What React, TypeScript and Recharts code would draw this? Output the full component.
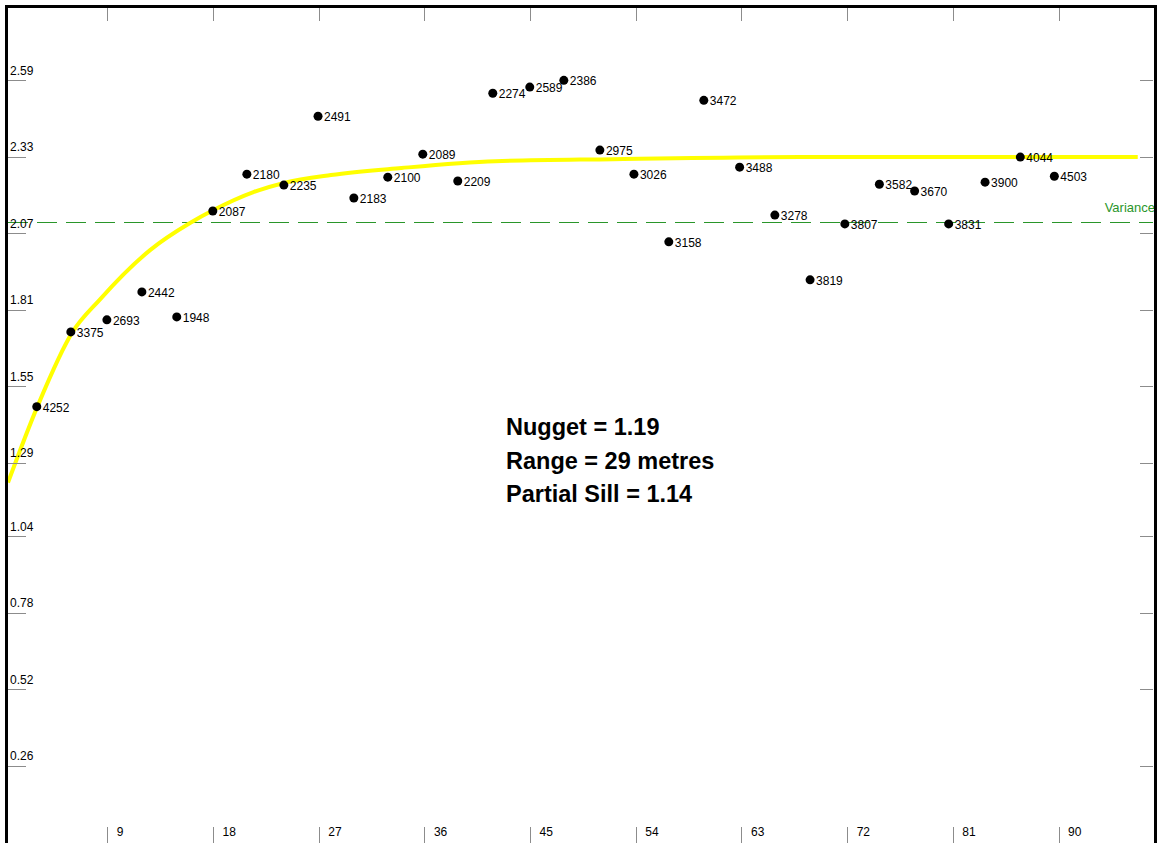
import React from 'react'
import { ComposedChart, Scatter, Line, XAxis, YAxis, ReferenceLine } from 'recharts'

// lag distance (m), semivariance and pair count of each point
const lags = [2.95, 5.85, 8.92, 11.9, 14.87, 17.94, 20.84, 23.99, 26.9, 29.95, 32.84, 35.82, 38.8, 41.78, 44.93, 47.83, 50.9, 53.8, 56.77, 59.75, 62.8, 65.8, 68.8, 71.76, 74.7, 77.7, 80.6, 83.7, 86.7, 89.6]
const gammas = [1.483, 1.737, 1.778, 1.873, 1.788, 2.148, 2.273, 2.236, 2.47, 2.192, 2.263, 2.341, 2.25, 2.548, 2.569, 2.592, 2.355, 2.273, 2.043, 2.524, 2.297, 2.134, 1.914, 2.104, 2.239, 2.216, 2.104, 2.246, 2.331, 2.266]
const pairs = [4252, 3375, 2693, 2442, 1948, 2087, 2180, 2235, 2491, 2183, 2100, 2089, 2209, 2274, 2589, 2386, 2975, 3026, 3158, 3472, 3488, 3278, 3819, 3807, 3582, 3670, 3831, 3900, 4044, 4503]

// fitted model curve
const modelLags = [0.5, 3, 6, 8.3, 12.6, 16, 18, 21.4, 24, 28, 34, 42, 52, 68, 96.7]
const modelGammas = [1.225, 1.483, 1.737, 1.846, 2.015, 2.107, 2.151, 2.212, 2.243, 2.27, 2.294, 2.317, 2.324, 2.331, 2.331]

const variance = 2.11

const xTicks = [9, 18, 27, 36, 45, 54, 63, 72, 81, 90]
const yTicks = [0.26, 0.52, 0.78, 1.04, 1.29, 1.55, 1.81, 2.07, 2.33, 2.59]

const notes = ['Nugget = 1.19', 'Range = 29 metres', 'Partial Sill = 1.14']

const points = lags.map((h, i) => ({ h, g: gammas[i], n: pairs[i] }))
const model = modelLags.map((h, i) => ({ h, g: modelGammas[i] }))

const W = 1159
const H = 843
const FONT = '"Liberation Sans", Arial, sans-serif'
const TICK = '#8c8c8c'

const LeftTick = (p: any) => (
  <g>
    <line x1={8} x2={26} y1={p.y} y2={p.y} stroke={TICK} shapeRendering="crispEdges" />
    <text x={10} y={p.y - 6} fontSize={12} fill="#000" fontFamily={FONT}>
      {Number(p.payload.value).toFixed(2)}
    </text>
  </g>
)

const RightTick = (p: any) => (
  <line x1={1140} x2={1153} y1={p.y} y2={p.y} stroke={TICK} shapeRendering="crispEdges" />
)

const TopTick = (p: any) => (
  <line x1={p.x} x2={p.x} y1={8} y2={21} stroke={TICK} shapeRendering="crispEdges" />
)

const BottomTick = (p: any) => (
  <g>
    <line x1={p.x} x2={p.x} y1={827} y2={843} stroke={TICK} shapeRendering="crispEdges" />
    <text x={p.x + 9} y={836} fontSize={12} fill="#000" fontFamily={FONT}>
      {p.payload.value}
    </text>
  </g>
)

const Dot = (p: any) => (
  <g>
    <circle cx={p.cx} cy={p.cy} r={4.5} fill="#000" />
    <text x={p.cx + 6} y={p.cy + 5} fontSize={12} fill="#000" fontFamily={FONT}>
      {p.payload.n}
    </text>
  </g>
)

const VarianceLabel = (p: any) => {
  const vb = p.viewBox
  return (
    <text x={vb.x + vb.width + 2} y={vb.y - 10} textAnchor="end" fontSize={13} fill="#2a962a" fontFamily={FONT}>
      Variance
    </text>
  )
}

export default function App() {
  return (
    <div style={{ position: 'absolute', left: 0, top: 0, width: W, height: H, overflow: 'hidden', background: '#fff' }}>
      <ComposedChart width={W} height={H + 1} margin={{ top: 4, right: 5, bottom: 0, left: 7 }}>
        <XAxis xAxisId="b" dataKey="h" type="number" domain={[0.5, 98]} ticks={xTicks} interval={0}
          height={1} axisLine={false} tickLine={false} tick={(p: any) => <BottomTick {...p} />} allowDataOverflow />
        <XAxis xAxisId="t" orientation="top" dataKey="h" type="number" domain={[0.5, 98]} ticks={xTicks} interval={0}
          height={1} axisLine={false} tickLine={false} tick={(p: any) => <TopTick {...p} />} allowDataOverflow />
        <YAxis yAxisId="l" type="number" domain={[0, 2.848]} ticks={yTicks} interval={0}
          width={1} axisLine={false} tickLine={false} tick={(p: any) => <LeftTick {...p} />} allowDataOverflow />
        <YAxis yAxisId="r" orientation="right" type="number" domain={[0, 2.848]} ticks={yTicks} interval={0}
          width={1} axisLine={false} tickLine={false} tick={(p: any) => <RightTick {...p} />} allowDataOverflow />
        <Scatter xAxisId="b" yAxisId="l" data={points} dataKey="g" shape={(p: any) => <Dot {...p} />} isAnimationActive={false} />
        <ReferenceLine xAxisId="b" yAxisId="l" y={variance} stroke="#2a962a" strokeWidth={1} strokeDasharray="20 9"
          shapeRendering="crispEdges" label={(p: any) => <VarianceLabel {...p} />} />
        <Line xAxisId="b" yAxisId="l" data={model} dataKey="g" type="monotone" stroke="#ffff00" strokeWidth={4}
          dot={false} activeDot={false} isAnimationActive={false} />
      </ComposedChart>
      <div style={{ position: 'absolute', left: 5, top: 5, width: 1152, height: 845, boxSizing: 'border-box',
        borderLeft: '3px solid #000', borderTop: '3px solid #000', borderRight: '3px solid #000' }} />
      <div style={{ position: 'absolute', left: 506, top: 411, fontFamily: FONT, fontWeight: 'bold', fontSize: 23.5,
        lineHeight: '33.5px', color: '#000', whiteSpace: 'nowrap' }}>
        {notes.map((t) => <div key={t}>{t}</div>)}
      </div>
    </div>
  )
}
